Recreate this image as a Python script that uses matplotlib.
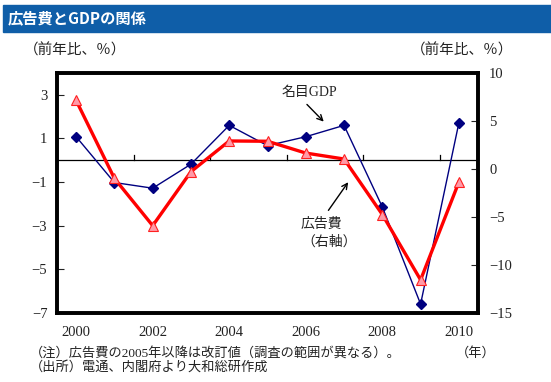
import matplotlib.pyplot as plt
from matplotlib.patches import Rectangle

plt.rcParams['font.family'] = ['Liberation Serif', 'Noto Sans CJK JP']

# data (前年比, %)
years = [2000, 2001, 2002, 2003, 2004, 2005, 2006, 2007, 2008, 2009, 2010]
gdp = [1.08, -1.02, -1.28, -0.18, 1.6, 0.67, 1.08, 1.6, -2.14, -6.59, 1.71]
ad = [7.14, -0.98, -5.9, -0.28, 2.92, 2.89, 1.66, 1.04, -4.74, -11.55, -1.37]
year_labels = ['2000', '2002', '2004', '2006', '2008', '2010']

fig = plt.figure(figsize=(5.51, 3.82), dpi=100)
ax = fig.add_axes([57/551, 69/382, 421/551, 240/382])
ax2 = ax.twinx()

x = list(range(len(years)))

# nominal GDP (left axis)
ax.plot(x, gdp, color='#000080', lw=1.0, marker='D', ms=5,
        mfc='#000080', mec='#000080', zorder=3)
# advertising (right axis)
ax2.plot(x, ad, color='#ff0000', lw=2.4, marker='^', ms=7,
         mfc='#ff9aa8', mec='#ff2020', mew=0.8, zorder=3)

ax.set_xlim(-0.5, len(years) - 0.5)
ax.set_ylim(-7, 4)
ax2.set_ylim(-15, 10)
ax.set_yticks([3, 1, -1, -3, -5, -7])
ax2.set_yticks([10, 5, 0, -5, -10, -15])
ax.set_xticks(x[::2])
ax.set_xticklabels(year_labels)

ax.tick_params(axis='y', direction='in', length=5, width=0.8, pad=7,
               labelsize=10.5, colors='#222222')
ax2.tick_params(axis='y', direction='in', length=5, width=0.8, pad=8,
                labelsize=10.5, colors='#222222')
ax.tick_params(axis='x', length=0, pad=9, labelsize=10.5, colors='#222222')

for a in (ax, ax2):
    for s in a.spines.values():
        s.set_linewidth(2.6)
        s.set_color('black')

# zero line with small ticks between categories
ax.axhline(0, color='black', lw=0.9, zorder=2)
for b in [1.5, 3.5, 5.5, 7.5, 9.5]:
    ax.plot([b, b], [0, 0.22], color='black', lw=0.9, zorder=2)

# annotations
ax.text(6.1, 3.1, '名目GDP', ha='center', va='center', fontsize=10, color='#222222')
ax.annotate('', xy=(6.52, 1.68), xytext=(5.98, 2.65),
            arrowprops=dict(arrowstyle='->', color='black', lw=1.0))
ax.text(6.42, -2.95, '広告費', ha='center', va='center', fontsize=10, color='#222222')
ax.text(6.6, -3.75, '（右軸）', ha='center', va='center', fontsize=10, color='#222222')
ax.annotate('', xy=(7.15, -0.9), xytext=(6.55, -2.4),
            arrowprops=dict(arrowstyle='->', color='black', lw=1.0))

# title bar
fig.patches.append(Rectangle((3/551, 1 - 32/382), 548/551, 27/382,
                             transform=fig.transFigure, color='#0f5ea8', zorder=0))
fig.text(8/551, 1 - 18.5/382, '広告費とGDPの関係', ha='left', va='center',
         fontsize=11, fontweight='bold', color='white', family='Noto Sans CJK JP')

# axis unit labels
fig.text(75/551, 1 - 50/382, '（前年比、％）', ha='center', va='center',
         fontsize=10.5, color='#222222')
fig.text(462/551, 1 - 50/382, '（前年比、％）', ha='center', va='center',
         fontsize=10.5, color='#222222')

# notes
fig.text(30/551, 1 - 353/382, '（注）広告費の2005年以降は改訂値（調査の範囲が異なる）。',
         ha='left', va='center', fontsize=9.5, color='#222222')
fig.text(30/551, 1 - 367/382, '（出所）電通、内閣府より大和総研作成',
         ha='left', va='center', fontsize=9.5, color='#222222')
fig.text(476/551, 1 - 353/382, '（年）', ha='center', va='center',
         fontsize=9.5, color='#222222')

fig.savefig('out.png', dpi=100)
